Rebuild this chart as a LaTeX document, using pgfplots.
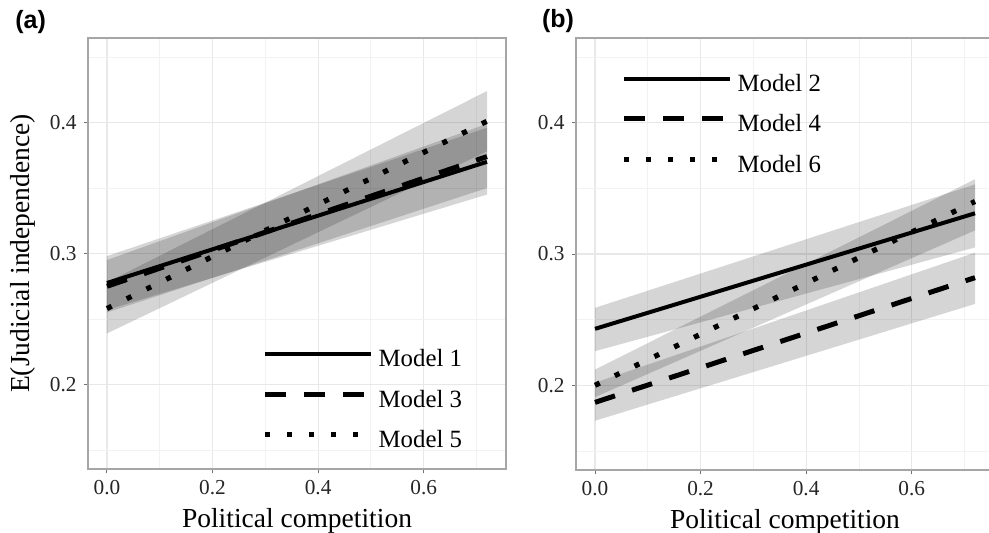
\documentclass[border=0pt]{standalone}
\usepackage{fontspec}
\setmainfont{Liberation Serif}
\setsansfont{Liberation Sans}
\usepackage{pgfplots}
\pgfplotsset{compat=1.18}

\pgfplotsset{
  every axis title shift/.style={},
  panel/.style={
    scale only axis, anchor=south west,
    width=209pt,
    xmin=-0.036, xmax=0.756, ymin=0.1355, ymax=0.4645,
    xtick={0,0.2,0.4,0.6}, xticklabels={0.0,0.2,0.4,0.6},
    minor xtick={0.1,0.3,0.5,0.7},
    ytick={0.2,0.3,0.4}, yticklabels={0.2,0.3,0.4},
    minor ytick={0.15,0.25,0.35,0.45},
    grid=both,
    major grid style={color=black!9, line width=0.55pt},
    minor grid style={color=black!5, line width=0.4pt},
    axis line style={black!35, line width=0.6pt},
    tick align=outside, tick pos=left,
    major tick length=2.2pt, minor tick length=0pt,
    tick style={black!55, line width=0.5pt},
    ticklabel style={font=\fontsize{10.65}{12}\selectfont, text=black!85},
    /pgf/number format/assume math mode=true,
    label style={font=\fontsize{13.75}{16}\selectfont},
    xlabel={Political competition},
    xlabel style={at={(axis description cs:0.5,-0.1346)}, anchor=base},
    title style={font=\sffamily\bfseries\fontsize{12.5}{14}\selectfont, anchor=base west, yshift=-4.5pt},
    legend cell align=left,
    legend style={draw=none, fill=none, inner sep=0pt, anchor=north west,
      font=\fontsize{12.4}{14}\selectfont, row sep=8.2pt, column sep=2.5pt,
      nodes={inner sep=0pt, text height=9pt, text depth=3pt}},
    legend image code/.code={\draw[##1] (0pt,3.5pt) -- (53pt,3.5pt);},
    clip mode=individual,
  },
  band/.style={fill=black, fill opacity=0.165, draw=none, forget plot},
  solidline/.style={black, line width=2pt},
  dashline/.style={black, line width=2.5pt, dash pattern=on 10.5pt off 9pt},
  dotline/.style={black, line width=2.6pt, dash pattern=on 2.6pt off 8.4pt},
}

\begin{document}
\begin{tikzpicture}
\useasboundingbox (0,0) rectangle (494.5pt,266pt);

% ---------------- Panel (a) ----------------
\begin{axis}[panel, at={(44pt,31.5pt)}, height=215.5pt,
  ylabel={E(Judicial independence)},
  ylabel style={at={(axis description cs:-0.1555,0.5)}, anchor=center},
  title={(a)}, title style={at={(axis description cs:-0.1907,1.0162)}},
  legend style={at={(axis description cs:0.4165,0.2795)}},
]
% confidence bands
\addplot[band] coordinates {(0,0.257) (0.72,0.345) (0.72,0.396) (0,0.298)} -- cycle;
\addplot[band] coordinates {(0,0.255) (0.72,0.350) (0.72,0.399) (0,0.295)} -- cycle;
\addplot[band] coordinates {(0,0.239) (0.72,0.378) (0.72,0.424) (0,0.278)} -- cycle;
% fitted lines
\addplot[solidline] coordinates {(0,0.2775) (0.72,0.370)};
\addlegendentry{Model 1}
\addplot[dashline] coordinates {(0,0.275) (0.72,0.374)};
\addlegendentry{Model 3}
\addplot[dotline] coordinates {(0,0.258) (0.72,0.401)};
\addlegendentry{Model 5}
\end{axis}

% ---------------- Panel (b) ----------------
\begin{axis}[panel, at={(288pt,31pt)}, height=216pt,
  title={(b)}, title style={at={(axis description cs:-0.098,1.0162)}},
  legend style={at={(axis description cs:0.1077,0.9186)}},
]
\addplot[band] coordinates {(0,0.226) (0.72,0.305) (0.72,0.353) (0,0.259)} -- cycle;
\addplot[band] coordinates {(0,0.173) (0.72,0.262) (0.72,0.301) (0,0.202)} -- cycle;
\addplot[band] coordinates {(0,0.191) (0.72,0.318) (0.72,0.357) (0,0.212)} -- cycle;
\addplot[solidline] coordinates {(0,0.243) (0.72,0.331)};
\addlegendentry{Model 2}
\addplot[dashline] coordinates {(0,0.187) (0.72,0.282)};
\addlegendentry{Model 4}
\addplot[dotline] coordinates {(0,0.200) (0.72,0.340)};
\addlegendentry{Model 6}
\end{axis}
\end{tikzpicture}
\end{document}
